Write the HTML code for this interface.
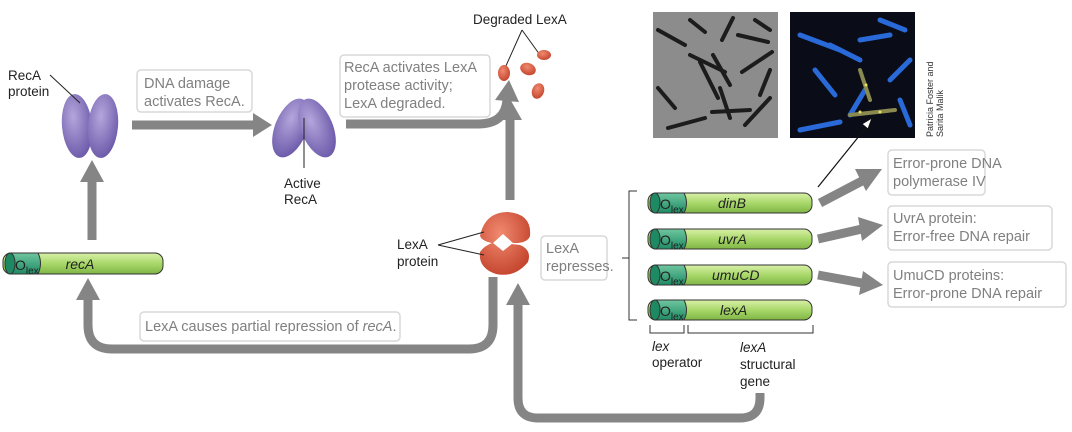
<!DOCTYPE html>
<html><head><meta charset="utf-8"><style>
html,body{margin:0;padding:0;background:#fff;}
svg{display:block;}
text{font-family:"Liberation Sans",sans-serif;}
.bx{fill:#fff;stroke:#d8d8d8;stroke-width:1.5;}
.bt{fill:#808080;font-size:14.5px;}
.lb{fill:#222;font-size:13.5px;}
.ar{fill:none;stroke:#858585;stroke-width:9;}
.ah{fill:#858585;}
.g{fill:url(#gg);stroke:#333;stroke-width:1;}
.o{fill:url(#og);stroke:#333;stroke-width:1;}
.gt{font-style:italic;font-size:14px;fill:#222;}
</style></head><body>
<svg width="1072" height="432" viewBox="0 0 1072 432" xmlns="http://www.w3.org/2000/svg">
<defs>
<linearGradient id="gg" x1="0" y1="0" x2="0" y2="1"><stop offset="0" stop-color="#d9f0a8"/><stop offset="0.5" stop-color="#a9d86a"/><stop offset="1" stop-color="#7fb545"/></linearGradient>
<linearGradient id="og" x1="0" y1="0" x2="0" y2="1"><stop offset="0" stop-color="#6fc6a0"/><stop offset="1" stop-color="#1e8a63"/></linearGradient>
<radialGradient id="pg" cx="0.4" cy="0.35" r="0.7"><stop offset="0" stop-color="#b4a6dc"/><stop offset="1" stop-color="#6a58a8"/></radialGradient>
<radialGradient id="rg" cx="0.4" cy="0.35" r="0.7"><stop offset="0" stop-color="#f08a70"/><stop offset="1" stop-color="#c4432c"/></radialGradient>
</defs>

<!-- arrows -->
<line class="ar" x1="132" y1="125" x2="255" y2="125"/><polygon class="ah" points="253,113 272,125 253,137"/>
<path class="ar" d="M346 124 H478 Q505 124 507 100"/><polygon class="ah" points="495,100 509,80 519,102"/>
<line class="ar" x1="510" y1="200" x2="510" y2="118"/><polygon class="ah" points="498,120 510,99 522,120"/>
<line class="ar" x1="92" y1="240" x2="92" y2="180"/><polygon class="ah" points="80,182 92,160 104,182"/>
<path class="ar" d="M493 277 V325 Q493 349 469 349 H112 Q88 349 88 325 V298"/><polygon class="ah" points="76,300 88,278 100,300"/>
<path class="ar" d="M760 393 V398 Q760 418 740 418 H538 Q518 418 518 398 V303"/><polygon class="ah" points="506,305 518,283 530,305"/>
<line class="ar" x1="820" y1="203" x2="862" y2="181"/><polygon class="ah" points="855,169 882,169 866,191"/>
<line class="ar" x1="818" y1="239" x2="862" y2="229"/><polygon class="ah" points="858,217 883,225 862,241"/>
<line class="ar" x1="818" y1="275" x2="862" y2="283"/><polygon class="ah" points="863,271 883,285 859,295"/>

<!-- boxes -->
<rect class="bx" x="137" y="70" width="115" height="42" rx="4"/>
<text class="bt" x="144" y="88">DNA damage</text><text class="bt" x="144" y="106">activates RecA.</text>
<rect class="bx" x="340" y="55" width="150" height="62" rx="4"/>
<text class="bt" x="344" y="72">RecA activates LexA</text><text class="bt" x="344" y="90">protease activity;</text><text class="bt" x="344" y="108">LexA degraded.</text>
<rect class="bx" x="541" y="236" width="66" height="44" rx="4"/>
<text class="bt" x="546" y="253">LexA</text><text class="bt" x="546" y="271">represses.</text>
<rect class="bx" x="140" y="312" width="260" height="29" rx="4"/>
<text class="bt" x="145" y="331">LexA causes partial repression of <tspan font-style="italic">recA</tspan>.</text>
<rect class="bx" x="888" y="150" width="97" height="45" rx="4"/>
<text class="bt" x="893" y="168">Error-prone DNA</text><text class="bt" x="893" y="186">polymerase IV</text>
<rect class="bx" x="888" y="206" width="164" height="44" rx="4"/>
<text class="bt" x="893" y="223">UvrA protein:</text><text class="bt" x="893" y="241">Error-free DNA repair</text>
<rect class="bx" x="888" y="262" width="178" height="45" rx="4"/>
<text class="bt" x="893" y="280">UmuCD proteins:</text><text class="bt" x="893" y="298">Error-prone DNA repair</text>

<!-- RecA proteins -->
<ellipse cx="77" cy="126" rx="15" ry="32" fill="url(#pg)" transform="rotate(-5 77 126)"/>
<ellipse cx="103" cy="126" rx="15" ry="32" fill="url(#pg)" transform="rotate(5 103 126)"/>
<ellipse cx="291" cy="128" rx="16" ry="31" fill="url(#pg)" transform="rotate(22 291 128)"/>
<ellipse cx="317" cy="128" rx="16" ry="31" fill="url(#pg)" transform="rotate(-22 317 128)"/>
<text class="lb" x="8" y="80">RecA</text><text class="lb" x="8" y="96">protein</text>
<line x1="50" y1="75" x2="80" y2="103" stroke="#222" stroke-width="1"/>
<line x1="304" y1="118" x2="304" y2="168" stroke="#222" stroke-width="1"/>
<text class="lb" x="284" y="188">Active</text><text class="lb" x="284" y="204">RecA</text>

<!-- LexA -->
<text class="lb" x="473" y="24">Degraded LexA</text>
<line x1="522" y1="30" x2="505" y2="68" stroke="#222"/><line x1="522" y1="30" x2="540" y2="55" stroke="#222"/>
<ellipse cx="504" cy="73" rx="6" ry="8" fill="url(#rg)"/>
<ellipse cx="528" cy="69" rx="8" ry="6" fill="url(#rg)" transform="rotate(20 528 69)"/>
<ellipse cx="544" cy="55" rx="7" ry="5" fill="url(#rg)"/>
<ellipse cx="538" cy="91" rx="6" ry="8" fill="url(#rg)" transform="rotate(20 538 91)"/>
<path d="M480 236 Q485 212 508 212 Q532 214 530 236 Q528 242 518 243 Q507 243 503 243 Q510 244 520 245 Q532 250 528 262 Q515 278 496 274 Q478 268 480 252 Q484 246 492 243 Q482 241 480 236Z" fill="url(#rg)"/>
<path d="M493 243 L503 234 L513 243 L503 251Z" fill="#fff"/>
<text class="lb" x="397" y="249">LexA</text><text class="lb" x="397" y="266">protein</text>
<line x1="438" y1="245" x2="484" y2="232" stroke="#222"/><line x1="438" y1="245" x2="484" y2="255" stroke="#222"/>

<!-- recA gene -->
<rect class="g" x="3" y="253" width="160" height="21" rx="8"/>
<path class="o" d="M10 253 H38 Q43 263 38 274 H10 Q3 263 10 253Z"/>
<ellipse cx="10" cy="263.5" rx="5" ry="10.5" fill="#1e8a63" stroke="#333"/>
<text x="15" y="270" font-size="14" fill="#222">O<tspan font-size="10" dy="4">lex</tspan></text>
<text class="gt" x="80" y="269" text-anchor="middle">recA</text>

<!-- bracket -->
<path d="M637 191 H629 V320 H637 M629 258 H622" fill="none" stroke="#333"/>

<!-- genes -->
<g>
<rect class="g" x="648" y="193" width="164" height="20" rx="8"/><path class="o" d="M655 193 H684 Q689 203 684 213 H655Z"/><ellipse cx="655" cy="203" rx="5" ry="10" fill="#1e8a63" stroke="#333"/>
<text x="660" y="209" font-size="14" fill="#222">O<tspan font-size="10" dy="4">lex</tspan></text><text class="gt" x="718" y="208">dinB</text>
</g>
<g>
<rect class="g" x="648" y="229" width="164" height="20" rx="8"/><path class="o" d="M655 229 H684 Q689 239 684 249 H655Z"/><ellipse cx="655" cy="239" rx="5" ry="10" fill="#1e8a63" stroke="#333"/>
<text x="660" y="245" font-size="14" fill="#222">O<tspan font-size="10" dy="4">lex</tspan></text><text class="gt" x="718" y="244">uvrA</text>
</g>
<g>
<rect class="g" x="648" y="265" width="164" height="20" rx="8"/><path class="o" d="M655 265 H684 Q689 275 684 285 H655Z"/><ellipse cx="655" cy="275" rx="5" ry="10" fill="#1e8a63" stroke="#333"/>
<text x="660" y="281" font-size="14" fill="#222">O<tspan font-size="10" dy="4">lex</tspan></text><text class="gt" x="712" y="280">umuCD</text>
</g>
<g>
<rect class="g" x="648" y="300" width="164" height="20" rx="8"/><path class="o" d="M655 300 H684 Q689 310 684 320 H655Z"/><ellipse cx="655" cy="310" rx="5" ry="10" fill="#1e8a63" stroke="#333"/>
<text x="660" y="316" font-size="14" fill="#222">O<tspan font-size="10" dy="4">lex</tspan></text><text class="gt" x="720" y="315">lexA</text>
</g>
<path d="M650 325 V333 H684 V325 M688 325 V333 H813 V325" fill="none" stroke="#333"/>
<text class="lb" x="652" y="351" font-style="italic">lex</text><text class="lb" x="652" y="367">operator</text>
<text class="lb" x="740" y="352" font-style="italic">lexA</text><text class="lb" x="740" y="369">structural</text><text class="lb" x="740" y="386">gene</text>

<!-- micrographs -->
<rect x="653" y="12" width="125" height="126" fill="#8c8c8c"/>
<g stroke="#1c1c1c" stroke-width="4" stroke-linecap="round">
<line x1="658" y1="30" x2="685" y2="45"/><line x1="690" y1="55" x2="725" y2="72"/><line x1="700" y1="62" x2="718" y2="98"/>
<line x1="713" y1="55" x2="730" y2="85"/>
<line x1="733" y1="18" x2="722" y2="40"/><line x1="738" y1="35" x2="768" y2="42"/><line x1="742" y1="72" x2="772" y2="52"/>
<line x1="668" y1="128" x2="705" y2="118"/><line x1="712" y1="112" x2="750" y2="110"/><line x1="745" y1="125" x2="770" y2="98"/>
<line x1="658" y1="88" x2="675" y2="108"/><line x1="720" y1="88" x2="730" y2="118"/><line x1="755" y1="20" x2="770" y2="30"/>
<line x1="690" y1="20" x2="705" y2="32"/><line x1="770" y1="70" x2="760" y2="95"/>
</g>
<rect x="790" y="12" width="125" height="126" fill="#0a0d18"/>
<g stroke="#2a6ad8" stroke-width="5" stroke-linecap="round">
<line x1="800" y1="35" x2="840" y2="50"/><line x1="830" y1="45" x2="860" y2="60"/><line x1="815" y1="70" x2="835" y2="95"/>
<line x1="865" y1="90" x2="850" y2="115"/><line x1="890" y1="80" x2="910" y2="60"/><line x1="860" y1="40" x2="890" y2="35"/>
<line x1="800" y1="130" x2="840" y2="122"/><line x1="880" y1="20" x2="905" y2="30"/><line x1="900" y1="100" x2="910" y2="125"/>
</g>
<g stroke="#8a8a50" stroke-width="4" stroke-linecap="round"><line x1="850" y1="115" x2="895" y2="110"/><line x1="860" y1="70" x2="870" y2="100"/></g>
<g fill="#e8e060"><circle cx="866" cy="85" r="1.5"/><circle cx="880" cy="112" r="1.5"/><circle cx="860" cy="112" r="1.5"/></g>
<text transform="translate(933,137) rotate(-90)" font-size="9" fill="#333">Patricia Foster and</text>
<text transform="translate(943,137) rotate(-90)" font-size="9" fill="#333">Sarita Malik</text>
<line x1="818" y1="187" x2="868" y2="125" stroke="#111" stroke-width="1.2"/>
<polygon points="872,118 862,124 868,129" fill="#fff" stroke="#111" stroke-width="1"/>
</svg>
</body></html>
